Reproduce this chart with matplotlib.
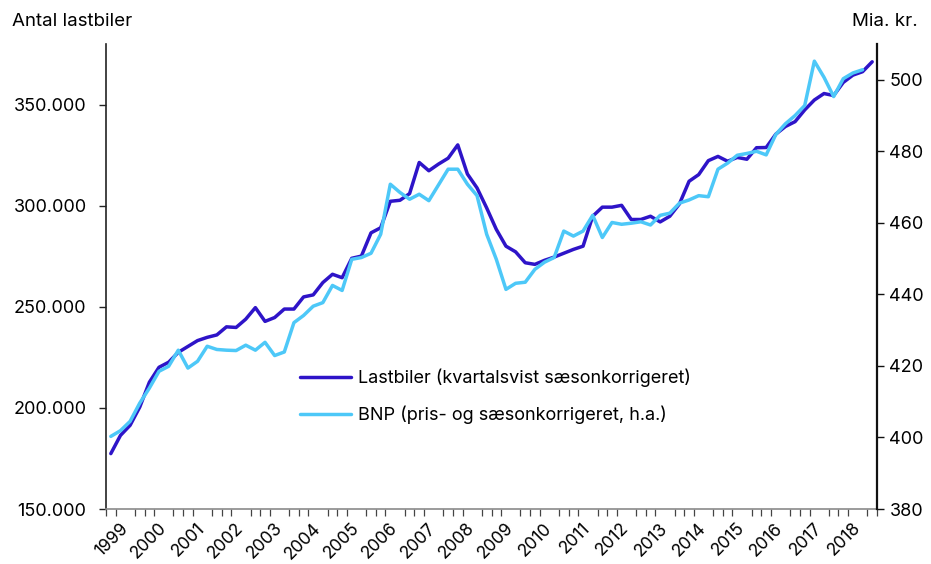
import numpy as np
import matplotlib
matplotlib.use("Agg")
import matplotlib.pyplot as plt
from matplotlib.ticker import FuncFormatter

# ---------------- data ----------------
years = list(range(1999, 2019))
year_labels = [str(y) for y in years]

# Number of trucks (quarterly, seasonally adjusted) 1999K1 - 2018K4
lastbiler = [
    177400, 186400, 191400, 200400,
    212700, 220100, 222600, 227500,
    230400, 233300, 234900, 236100,
    240100, 239800, 243900, 249600,
    242800, 244700, 248900, 248900,
    254900, 255900, 262000, 266100,
    264400, 274000, 275100, 286600,
    289100, 302200, 302700, 306000,
    321400, 317300, 320600, 323500,
    330100, 315700, 308800, 298900,
    288300, 280000, 277200, 271800,
    271000, 273000, 274600, 276500,
    278400, 280000, 294800, 299300,
    299300, 300200, 293200, 293200,
    294800, 292000, 294800, 300900,
    312100, 315400, 322300, 324400,
    322000, 323900, 323000, 328700,
    328800, 335400, 339200, 341600,
    347400, 352300, 355500, 354500,
    361000, 364600, 366300, 371200,
]

# GDP (price and seasonally adjusted, bn DKK, right axis) 1999K1 - 2018K3
bnp = [
    400.3, 401.9, 404.5, 409.6,
    413.8, 418.5, 419.9, 424.4,
    419.4, 421.3, 425.5, 424.6,
    424.4, 424.3, 425.8, 424.4,
    426.6, 422.9, 423.9, 432.1,
    434.1, 436.7, 437.7, 442.5,
    441.1, 449.8, 450.3, 451.5,
    456.8, 470.8, 468.5, 466.6,
    468.0, 466.2, 470.6, 475.0,
    475.0, 470.8, 467.6, 456.8,
    449.8, 441.4, 443.1, 443.4,
    447.0, 449.0, 450.3, 457.7,
    456.3, 457.7, 462.1, 455.9,
    460.1, 459.6, 459.9, 460.3,
    459.4, 462.1, 462.7, 465.5,
    466.4, 467.6, 467.3, 475.0,
    476.7, 478.9, 479.4, 480.0,
    479.0, 484.7, 487.7, 490.0,
    492.8, 505.2, 500.7, 495.3,
    500.3, 501.9, 502.8,
]

label_trucks = "Lastbiler (kvartalsvist sæsonkorrigeret)"
label_gdp = "BNP (pris- og sæsonkorrigeret, h.a.)"
left_ticks = [150000, 200000, 250000, 300000, 350000]
right_ticks = [380, 400, 420, 440, 460, 480, 500]

# ---------------- style ----------------
plt.rcParams["font.family"] = ["Inter", "DejaVu Sans"]
FS = 13
dark = "#2E14C8"
light = "#4DC8F8"

fig = plt.figure(figsize=(9.31, 5.64), dpi=100)
ax = fig.add_axes([106 / 931, 1 - 509 / 564, (877 - 106) / 931, (509 - 44) / 564])
ax2 = ax.twinx()

x1 = np.arange(len(lastbiler))
x2 = np.arange(len(bnp))
l1, = ax.plot(x1, lastbiler, color=dark, lw=2.5, solid_joinstyle="round",
              solid_capstyle="round", label=label_trucks)
l2, = ax2.plot(x2, bnp, color=light, lw=2.5, solid_joinstyle="round",
               solid_capstyle="round", label=label_gdp)

ax.set_xlim(-0.5, len(lastbiler) - 0.5)
ax.set_ylim(150000, 380000)
ax2.set_ylim(380, 510)

# spines
for a in (ax, ax2):
    a.spines["top"].set_visible(False)
ax.spines["right"].set_visible(False)
ax2.spines["left"].set_visible(False)
ax2.spines["bottom"].set_visible(False)
ax.spines["left"].set_linewidth(1.2)
ax.spines["left"].set_color("#222222")
ax2.spines["right"].set_linewidth(1.6)
ax2.spines["right"].set_color("#111111")
ax.spines["bottom"].set_linewidth(1.2)
ax.spines["bottom"].set_color("#8a8a8a")

# left axis ticks
ax.set_yticks(left_ticks)
ax.yaxis.set_major_formatter(FuncFormatter(lambda v, p: f"{v:,.0f}".replace(",", ".")))
ax.tick_params(axis="y", direction="out", length=5, width=1.0, pad=9,
               labelsize=FS, color="#222222")

# right axis ticks
ax2.set_yticks(right_ticks)
ax2.tick_params(axis="y", direction="out", length=5, width=1.0, pad=4,
                labelsize=FS, color="#111111")

# x axis: quarterly minor ticks, year labels
ax.set_xticks(np.arange(-0.5, len(lastbiler), 1), minor=True)
ax.set_xticks(np.arange(1.5, len(lastbiler), 4))
ax.set_xticklabels(year_labels, rotation=45, ha="right", va="center",
                   rotation_mode="anchor")
ax.tick_params(axis="x", which="major", length=0, pad=12, labelsize=12.5)
ax.tick_params(axis="x", which="minor", length=5, width=0.9, color="#444444",
               direction="out")

# titles
fig.text(12 / 931, 1 - 22 / 564, "Antal lastbiler", ha="left", va="center", fontsize=13.5)
fig.text(918 / 931, 1 - 22 / 564, "Mia. kr.", ha="right", va="center", fontsize=13.5)

# legend
leg = ax2.legend([l1, l2], [label_trucks, label_gdp], loc="center left",
                 bbox_to_anchor=((300 - 106) / 771, (509 - 396.5) / 465),
                 frameon=False, fontsize=FS, handlelength=2.8,
                 handletextpad=0.4, labelspacing=1.0, borderpad=0,
                 borderaxespad=0)

fig.savefig("out.png", dpi=100)
